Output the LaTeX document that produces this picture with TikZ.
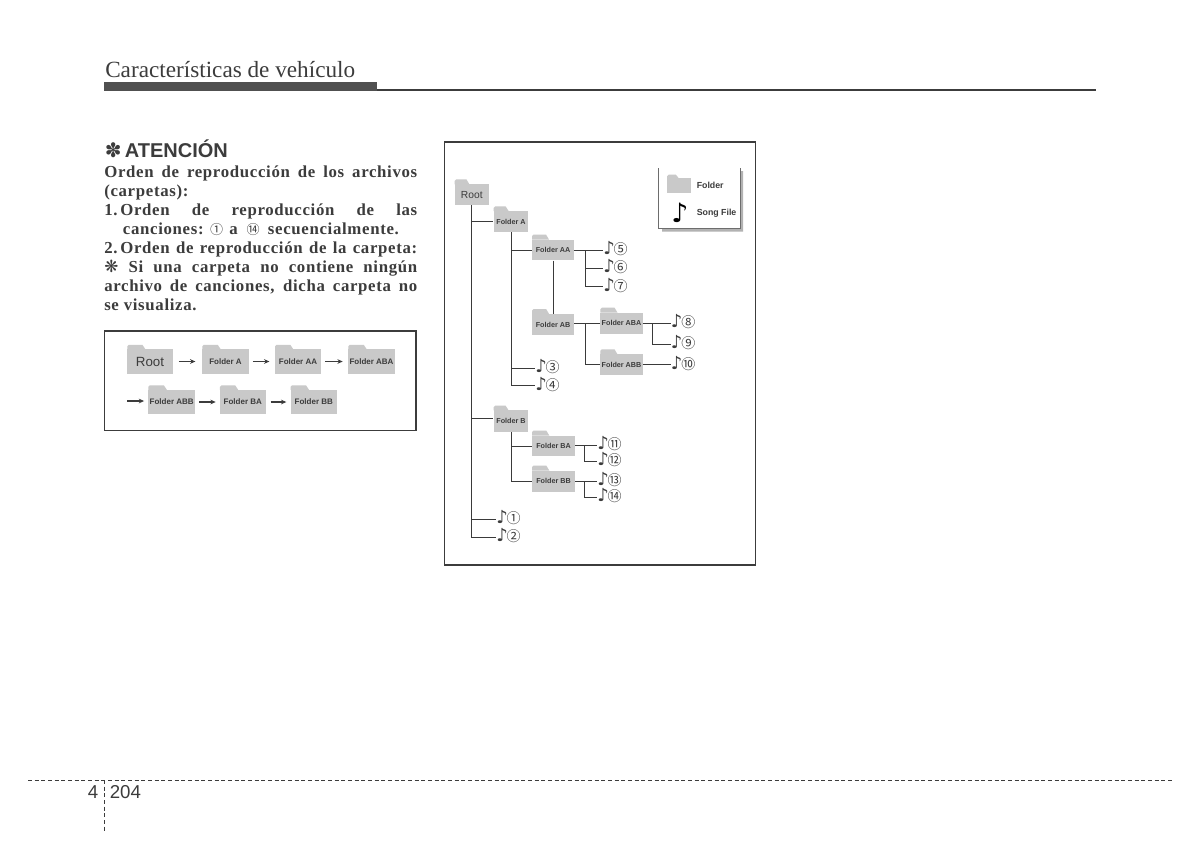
\documentclass[tikz,border=0pt]{standalone}
\usepackage{fontspec}
\setmainfont{Liberation Serif}
\setsansfont{Liberation Sans}
\newfontfamily\symfont{DejaVu Sans}
\newfontfamily\circfont{Noto Sans CJK JP}
\newfontfamily\spacedserif[LetterSpace=4]{Liberation Serif}
\usetikzlibrary{arrows.meta}
\definecolor{ink}{HTML}{3C3C3C}
\definecolor{foldergray}{HTML}{C9C9C9}
\definecolor{linegray}{HTML}{3A3A3A}
\tikzset{
  folderbody/.style={fill=foldergray,inner sep=0pt,text=ink,font=\sffamily\bfseries\fontsize{5.4pt}{7pt}\selectfont},
  rootlabel/.style={font=\sffamily\fontsize{7.7pt}{9pt}\selectfont},
  bigroot/.style={font=\sffamily\fontsize{10pt}{12pt}\selectfont},
  orderlabel/.style={font=\sffamily\bfseries\fontsize{6pt}{7pt}\selectfont},
  songnode/.style={anchor=west,inner sep=0pt,text height=9pt,text depth=2pt,text=ink},
  wire/.style={draw=linegray,line width=.75pt},
  flow/.style={draw=ink,line width=.8pt,-{Stealth[length=4pt,width=3.5pt]}},
  boxframe/.style={draw=ink,line width=1.1pt},
  bodytext/.style={anchor=north west,inner sep=0pt,text width=234.75pt,text=ink,align=justify,font=\spacedserif\bfseries\fontsize{12.6pt}{14.17pt}\selectfont},
}
% \myfolder[extra style]{name}{cx}{cy}{w}{h}{tab height}{text}
\newcommand{\myfolder}[8][]{%
  \fill[foldergray] (#3-#5/2,#4-#6/2) -- ++(0,{-#7+1.5}) -- ++(1.5,-1.5) -- ++({#5*.3},0) -- ++(3,#7) -- cycle;
  \node[folderbody,minimum width={#5*.75pt},minimum height={#6*.75pt},#1] (#2) at (#3,#4) {#8};
}
\newcommand{\song}[4]{\node[songnode] (#1) at (#2,#3) {{\symfont\fontsize{13.5pt}{14pt}\selectfont ♪}\kern-.8pt{\circfont\fontsize{10.5pt}{11pt}\selectfont #4}};}
\newcommand{\bodycirc}[1]{{\circfont\mdseries\fontsize{9.8pt}{10pt}\selectfont #1}}
\begin{document}
\begin{tikzpicture}[x=.75pt,y=-.75pt]
\useasboundingbox (0,0) rectangle (1200,861);
\fill[white] (0,0) rectangle (1200,861);

% header
\node[anchor=base west,inner sep=0pt,text=ink,font=\fontsize{17.4pt}{20pt}\selectfont] (title) at (105,77) {Características de vehículo};
\fill[ink!90] (104,82) rectangle (376.7,90.7);
\fill[ink] (376.7,89.3) rectangle (1096,90.8);

% notice
\node[anchor=base west,inner sep=0pt,text=ink,font=\sffamily\bfseries\fontsize{15pt}{18pt}\selectfont] (heading) at (104.5,157) {{\symfont ✽}\,ATENCIÓN};
\node[bodytext] (body) at (104,166) {%
Orden de reproducción de los archivos\linebreak
(carpetas):\\
1.\,Orden de reproducción de las\linebreak
\hspace*{14pt}canciones: \bodycirc{①} \kern1pt a\kern3pt{} \bodycirc{⑭} \kern2.5pt secuencialmente.\\
2.\,Orden de reproducción de la carpeta:\linebreak
{\symfont ❋} Si una carpeta no contiene ningún\linebreak
archivo de canciones, dicha carpeta no\linebreak
se visualiza.};

% order box
\draw[boxframe] (104.3,331) rectangle (416,430.7);
\myfolder[bigroot]{oroot}{150}{361.5}{45.4}{24.4}{4.5}{Root}
\myfolder[orderlabel]{oa}{225.5}{361.5}{46.4}{24.4}{4.5}{Folder A}
\myfolder[orderlabel]{oaa}{298}{361.5}{46}{24.4}{4.5}{Folder AA}
\myfolder[orderlabel]{oaba}{371.5}{361.5}{46.4}{24.4}{4.5}{Folder ABA}
\myfolder[orderlabel]{oabb}{171.7}{402}{46.7}{24.4}{4.5}{Folder ABB}
\myfolder[orderlabel]{oba}{242.8}{402}{45.7}{24.4}{4.5}{Folder BA}
\myfolder[orderlabel]{obb}{313.8}{402}{46.4}{24.4}{4.5}{Folder BB}
\coordinate (ostart) at (127.3,401);
\draw[flow,shorten <=4.5pt,shorten >=5pt] (oroot.east) -- (oa.west);
\draw[flow,shorten <=3pt,shorten >=4pt] (oa.east) -- (oaa.west);
\draw[flow,shorten <=3pt,shorten >=4pt] (oaa.east) -- (oaba.west);
\draw[flow,shorten >=3pt] (ostart) -- (ostart -| oabb.west);
\draw[flow,shorten <=3pt,shorten >=3pt] (oabb.east) -- (oba.west);
\draw[flow,shorten <=3.5pt,shorten >=3pt] (oba.east) -- (obb.west);

% tree frame
\draw[boxframe] (444.5,142) rectangle (755.7,565);

% legend
\fill[black!30] (743,171) rectangle (740,231.5) -- (662,231.5) -- (662,228.5) -- (740,228.5) -- (740,171) -- cycle;
\draw[draw=ink!75,line width=.7pt] (658.7,168) -- (658.7,228.3) -- (740,228.3) -- (740,168);
\myfolder{legfolder}{679.2}{185.5}{24.3}{14.4}{3.6}{}
\node[anchor=west,inner sep=0pt,text=ink,font=\sffamily\bfseries\fontsize{6.6pt}{8pt}\selectfont] (legf) at (696.5,185) {Folder};
\node[anchor=west,inner sep=0pt,text=ink,font=\sffamily\bfseries\fontsize{6.6pt}{8pt}\selectfont] (legs) at (696.5,213) {Song File};
\node[inner sep=0pt,text=black,font=\symfont\fontsize{20pt}{22pt}\selectfont] (legn) at (680,213) {♪};

% folders
\myfolder[rootlabel]{root}{471.8}{194.7}{34.3}{20.7}{5}{Root}
\myfolder{a}{511}{221.5}{34.6}{21}{4.7}{Folder A}
\myfolder{aa}{553}{250}{42}{20.6}{5}{Folder AA}
\myfolder{ab}{553}{324.5}{42}{21}{5}{Folder AB}
\myfolder{aba}{621.5}{323.2}{42.4}{21}{5}{Folder ABA}
\myfolder{abb}{621.5}{364.7}{42.4}{20.7}{5}{Folder ABB}
\myfolder{b}{511}{421}{34.6}{21.4}{4.7}{Folder B}
\myfolder{ba}{553.5}{446}{43}{20.6}{5}{Folder BA}
\myfolder{bb}{553.5}{481.2}{43}{21}{5}{Folder BB}

% songs
\song{s1}{496}{519}{①}
\song{s2}{496}{537}{②}
\song{s3}{535}{368.3}{③}
\song{s4}{535}{385.5}{④}
\song{s5}{603}{250}{⑤}
\song{s6}{603}{268.3}{⑥}
\song{s7}{603}{286.5}{⑦}
\song{s8}{670.7}{323.2}{⑧}
\song{s9}{670.7}{344}{⑨}
\song{s10}{670.7}{364.7}{⑩}
\song{s11}{597}{445}{⑪}
\song{s12}{597}{461}{⑫}
\song{s13}{597}{481.2}{⑬}
\song{s14}{597}{497}{⑭}

% junctions
\coordinate (jaa) at (585.7,250);
\coordinate (jab) at (585.7,323.2);
\coordinate (jaba) at (652.7,323.2);
\coordinate (jba) at (584,445);
\coordinate (jbb) at (584,481.2);
\coordinate (ja) at (472.3,221.5);
\coordinate (jb) at (472.3,418.3);
\coordinate (jaat) at (511,250);
\coordinate (jbat) at (511,446);

% connectors
\draw[wire] (root.south) |- (s2.west);
\draw[wire] (ja) -- (a.west);
\draw[wire] (jb) -- (jb -| b.west);
\draw[wire] (jb |- s1.west) -- (s1.west);
\draw[wire] (a.south) |- (s4.west);
\draw[wire] (jaat) -- (aa.west);
\draw[wire] (a.south |- s3.west) -- (s3.west);
\draw[wire] (aa.east) -- (s5.west);
\draw[wire] (jaa) |- (s7.west);
\draw[wire] (jaa |- s6.west) -- (s6.west);
\draw[wire] (aa.south) -- (ab.north);
\draw[wire] (ab.east |- jab) -- (aba.west);
\draw[wire] (jab) |- (abb.west);
\draw[wire] (aba.east) -- (s8.west);
\draw[wire] (jaba) |- (s9.west);
\draw[wire] (abb.east) -- (s10.west);
\draw[wire] (b.south) |- (bb.west);
\draw[wire] (jbat) -- (ba.west);
\draw[wire] (ba.east |- jba) -- (s11.west);
\draw[wire] (jba) |- (s12.west);
\draw[wire] (bb.east) -- (s13.west);
\draw[wire] (jbb) |- (s14.west);

% footer
\coordinate (fl) at (28,780);
\coordinate (fr) at (1174,780);
\coordinate (ft) at (104.5,780);
\coordinate (fb) at (104.5,833);
\draw[draw=ink,line width=.75pt,dash pattern=on 3pt off 2pt] (fl) -- (fr);
\draw[draw=ink,line width=.75pt,dash pattern=on 3pt off 2pt] (ft) -- (fb);
\node[anchor=base,inner sep=0pt,text=ink,font=\sffamily\fontsize{14pt}{16pt}\selectfont] (chap) at (93,798) {4};
\node[anchor=base west,inner sep=0pt,text=ink,font=\sffamily\fontsize{14pt}{16pt}\selectfont] (page) at (109.5,798) {204};
\end{tikzpicture}
\end{document}
